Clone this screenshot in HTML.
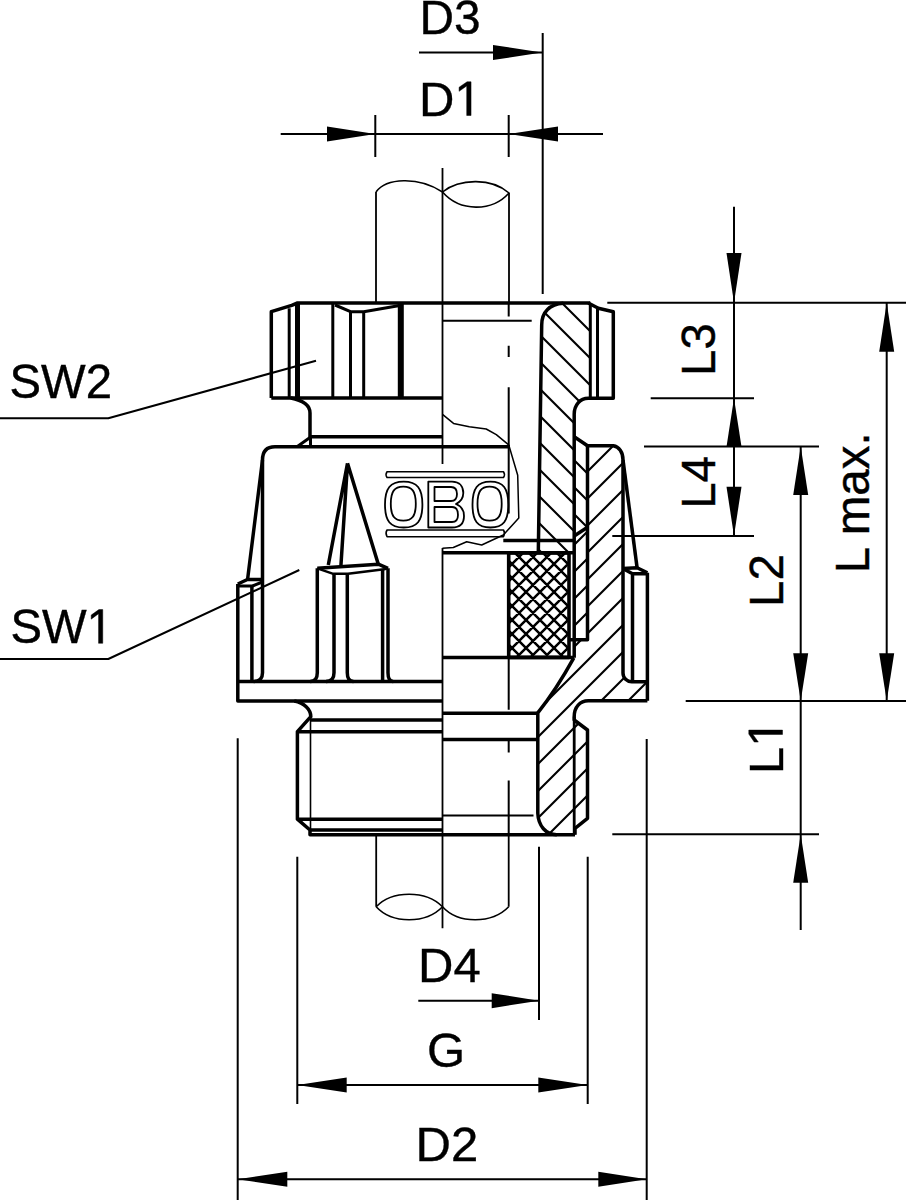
<!DOCTYPE html>
<html><head><meta charset="utf-8"><style>
html,body{margin:0;padding:0;background:#fff;}
svg{display:block;}
text{font-family:"Liberation Sans",sans-serif;fill:#000;stroke:#000;stroke-width:0.4px;}
path,ellipse{stroke:#000;fill:none;stroke-linejoin:round;}
</style></head><body>
<svg width="906" height="1200" viewBox="0 0 906 1200">
<defs><clipPath id="cn"><path d="M563.3 303.3C550 304 541.7 312 541.7 325L538.3 540.8H574.2V414.2C574.2 405 580 398.3 588.3 398.3H590.3V303.3Z"/></clipPath><clipPath id="cw"><path d="M538.3 540.8H569V553H538.3Z"/></clipPath><clipPath id="cs1"><path d="M574.2 436.7L587.5 445.8V527.3L574.2 536Z"/></clipPath><clipPath id="cs2"><path d="M574.2 536L587.5 527.3V639.8H574.2Z"/></clipPath><clipPath id="cb"><path d="M587.5 445.8H613.3C619 446.7 623 452 623 460V673C623 678 627 681.7 631.7 681.7H646.7V700.8H588.3C580 700.8 574.2 707 574.2 716.7V720L587.5 730V818.3L575 828.3V834.7H556.7C546 834.7 538.3 826 538.3 813.3V712.8Q556 690 573.8 657.8L574.2 639.8H587.5Z"/></clipPath><clipPath id="cx"><rect x="508.7" y="553" width="61" height="104"/></clipPath></defs><rect width="906" height="1200" fill="#fff"/>
<path d="M419 52.5H542" stroke-width="2.0" /><polygon points="542.0,52.5 493.0,60.0 493.0,45.0" fill="#000" stroke="none"/><path d="M542.7 33V294" stroke-width="2.0" /><path d="M280.7 134H603" stroke-width="2.0" /><polygon points="375.3,134.0 327.0,141.5 327.0,126.5" fill="#000" stroke="none"/><polygon points="508.7,134.0 558.0,126.5 558.0,141.5" fill="#000" stroke="none"/><path d="M375.3 115V157M508.7 115V157" stroke-width="2.0" /><path d="M734 206.7V536" stroke-width="2.0" /><polygon points="734.0,302.7 726.5,253.0 741.5,253.0" fill="#000" stroke="none"/><polygon points="734.0,398.3 741.5,446.7 726.5,446.7" fill="#000" stroke="none"/><polygon points="734.0,536.0 726.5,486.7 741.5,486.7" fill="#000" stroke="none"/><path d="M607.3 302.7H906M650.7 398.3H754M644 446.5H819M612.3 536H754M685.7 701H906M612.3 834.3H819" stroke-width="2.0" /><path d="M800.7 446.5V930" stroke-width="2.0" /><polygon points="800.7,446.5 808.2,495.0 793.2,495.0" fill="#000" stroke="none"/><polygon points="800.7,701.0 793.2,653.3 808.2,653.3" fill="#000" stroke="none"/><polygon points="800.7,834.3 808.2,882.7 793.2,882.7" fill="#000" stroke="none"/><path d="M886.7 302.7V701" stroke-width="2.0" /><polygon points="886.7,302.7 894.2,351.7 879.2,351.7" fill="#000" stroke="none"/><polygon points="886.7,701.0 879.2,653.3 894.2,653.3" fill="#000" stroke="none"/><path d="M418.3 1000.7H539M539 846.7V1020" stroke-width="2.0" /><polygon points="539.0,1000.7 491.7,1008.2 491.7,993.2" fill="#000" stroke="none"/><path d="M297.3 1085H587.7M297.3 856.7V1104M587.7 856.7V1104" stroke-width="2.0" /><polygon points="297.3,1085.0 346.7,1077.5 346.7,1092.5" fill="#000" stroke="none"/><polygon points="587.7,1085.0 538.3,1092.5 538.3,1077.5" fill="#000" stroke="none"/><path d="M237.7 1179.3H646.7M237.7 738.3V1200M646.7 739V1200" stroke-width="2.0" /><polygon points="237.7,1179.3 287.3,1171.8 287.3,1186.8" fill="#000" stroke="none"/><polygon points="646.7,1179.3 598.3,1186.8 598.3,1171.8" fill="#000" stroke="none"/><path d="M0 418.3H108.3L316 360.7" stroke-width="2.0" /><path d="M0 659H108.3L299.3 570" stroke-width="2.0" /><g transform="translate(419.5,33.6) scale(0.975,1)"><text x="0.00" y="0" font-size="49">D3</text></g><g transform="translate(419,115.5)"><text x="0.00" y="0" font-size="49">D</text><path d="M515 0V1237L197 1010V1180L530 1409H696V0Z" transform="translate(35.39,0) scale(0.02393,-0.02393)" style="fill:#000" stroke-width="20"/></g><g transform="translate(9.5,398.3) scale(0.965,1)"><text x="0.00" y="0" font-size="49">SW2</text></g><g transform="translate(10.5,643.3) scale(0.965,1)"><text x="0.00" y="0" font-size="49">SW</text><path d="M515 0V1237L197 1010V1180L530 1409H696V0Z" transform="translate(78.93,0) scale(0.02393,-0.02393)" style="fill:#000" stroke-width="20"/></g><g transform="translate(418,981.5)"><text x="0.00" y="0" font-size="49">D4</text></g><g transform="translate(427,1066.7)"><text x="0.00" y="0" font-size="49">G</text></g><g transform="translate(415.5,1160.5)"><text x="0.00" y="0" font-size="49">D2</text></g><g transform="translate(715,376) rotate(-90)"><text x="0.00" y="0" font-size="47.5">L3</text></g><g transform="translate(715,508.8) rotate(-90)"><text x="0.00" y="0" font-size="47.5">L4</text></g><g transform="translate(782.5,607) rotate(-90)"><text x="0.00" y="0" font-size="47.5">L2</text></g><g transform="translate(782.5,774) rotate(-90)"><text x="0.00" y="0" font-size="49">L</text><path d="M515 0V1237L197 1010V1180L530 1409H696V0Z" transform="translate(27.25,0) scale(0.02393,-0.02393)" style="fill:#000" stroke-width="20"/></g><g transform="translate(868.5,573.2) rotate(-90)"><text x="0.00" y="0" font-size="47.5">L max.</text></g><path d="M376 192V303M509 193V303M442.5 168V464M442.5 548V928.3" stroke-width="1.8" /><path d="M376 192C386 178 418 176 442.5 192C460 178 492 178 509 193C492 212 460 212 442.5 192" stroke-width="1.6" fill="none"/><path d="M376.2 834.7V906.7M508.7 834.7V906.7" stroke-width="1.8" /><path d="M376.2 906.7C392 890 426 890 442.5 906.7C426 924 392 924 376.2 906.7M442.5 906.7C458 924 492 924 508.7 906.7" stroke-width="1.6" fill="none"/><path d="M271.3 398V311.7L291.7 305.3L297.5 303H590.3" stroke-width="3.5" /><path d="M271.3 398H442.5" stroke-width="3.5" /><path d="M289.2 308.3V398" stroke-width="3" /><path d="M297.5 303V398" stroke-width="5" /><path d="M332.8 303V398" stroke-width="3" /><path d="M350.5 311.7V398M363.7 311.7V398" stroke-width="3" /><path d="M400.8 303V398" stroke-width="6" /><path d="M335 305L350.5 311.7H363.7L398.3 305.8" stroke-width="3" /><path d="M290.8 398C301 400 310 404 310 413V436.7H442.5" stroke-width="3.5" /><path d="M297 446.7L310 437.5M310.5 437V446.7" stroke-width="3" /><path d="M510 446.7H275Q262.5 446.7 262.5 460V672.7Q262.5 681.5 253.7 681.5" stroke-width="3.5" /><path d="M237.8 681.5H442.5" stroke-width="3.5" /><path d="M237.8 584V701H442.5" stroke-width="3.5" /><path d="M237.8 584L247.4 579.5H262.3" stroke-width="3.5" /><path d="M237.8 586H252.3L262.3 582" stroke-width="3" /><path d="M251.9 586V681.5" stroke-width="3.5" /><path d="M262.5 460L247.5 580" stroke-width="3.5" /><path d="M317.3 568.3V672.7Q317.3 681.5 310.2 681.5" stroke-width="3.5" /><path d="M334 573.3V672.7Q334 681.5 326 681.5" stroke-width="3.5" /><path d="M347.3 573.3V672.7Q347.3 681.5 353.5 681.5" stroke-width="3.5" /><path d="M382.6 569V681.5" stroke-width="3.5" /><path d="M388 568.3V672.7Q388 681.5 393.2 681.5" stroke-width="3.5" /><path d="M317.3 568.3L378.3 564.2L388 568.3" stroke-width="3.5" /><path d="M317.3 568.3L333.3 573.8H348L384 569.3L388 568.3" stroke-width="2.4" /><path d="M347.5 463.3L328.3 565M347.5 463.3L340.8 567.5M347.5 463.3L378.3 564.2" stroke-width="3.5" /><path d="M294.3 701C304 703 310.8 709 310.8 716.7L297.4 731.7V819.2L310 830V834.7H575" stroke-width="3.5" /><path d="M310.8 720H442.5M297.4 731.7H442.5M297.4 819.2H442.5M310 830H442.5" stroke-width="3.5" /><path d="M310.5 716.7V830" stroke-width="1.6" /><path clip-path="url(#cn)" stroke-width="2.1" d="M563 250L1213 900M536 250L1186 900M509 250L1159 900M482 250L1132 900M455 250L1105 900M428 250L1078 900M401 250L1051 900M374 250L1024 900M347 250L997 900M320 250L970 900M293 250L943 900M266 250L916 900M239 250L889 900M212 250L862 900M185 250L835 900M158 250L808 900M131 250L781 900M104 250L754 900M77 250L727 900M50 250L700 900M23 250L673 900M-4 250L646 900"/><path clip-path="url(#cw)" stroke-width="2.1" d="M563 250L1213 900M536 250L1186 900M509 250L1159 900M482 250L1132 900M455 250L1105 900M428 250L1078 900M401 250L1051 900M374 250L1024 900M347 250L997 900M320 250L970 900M293 250L943 900M266 250L916 900M239 250L889 900M212 250L862 900M185 250L835 900M158 250L808 900M131 250L781 900M104 250L754 900M77 250L727 900M50 250L700 900M23 250L673 900M-4 250L646 900"/><path clip-path="url(#cs1)" stroke-width="2.1" d="M472 250L1122 900M445 250L1095 900M418 250L1068 900M391 250L1041 900M364 250L1014 900M337 250L987 900M310 250L960 900M283 250L933 900M256 250L906 900M229 250L879 900"/><path clip-path="url(#cs2)" stroke-width="2.1" d="M788 250L88 950M815 250L115 950M842 250L142 950M869 250L169 950M896 250L196 950M923 250L223 950M950 250L250 950M977 250L277 950M1004 250L304 950M1031 250L331 950"/><path clip-path="url(#cb)" stroke-width="2.1" d="M269 250L-431 950M296 250L-404 950M323 250L-377 950M350 250L-350 950M377 250L-323 950M404 250L-296 950M431 250L-269 950M458 250L-242 950M485 250L-215 950M512 250L-188 950M539 250L-161 950M566 250L-134 950M593 250L-107 950M620 250L-80 950M647 250L-53 950M674 250L-26 950M701 250L1 950M728 250L28 950M755 250L55 950M782 250L82 950M809 250L109 950M836 250L136 950M863 250L163 950M890 250L190 950M917 250L217 950M944 250L244 950M971 250L271 950M998 250L298 950M1025 250L325 950M1052 250L352 950M1079 250L379 950M1106 250L406 950M1133 250L433 950M1160 250L460 950M1187 250L487 950M1214 250L514 950M1241 250L541 950M1268 250L568 950M1295 250L595 950M1322 250L622 950"/><path clip-path="url(#cx)" stroke-width="2.5" d="M182 500L382 700M296 500L96 700M196 500L396 700M310 500L110 700M210 500L410 700M324 500L124 700M224 500L424 700M338 500L138 700M238 500L438 700M352 500L152 700M252 500L452 700M366 500L166 700M266 500L466 700M380 500L180 700M280 500L480 700M394 500L194 700M294 500L494 700M408 500L208 700M308 500L508 700M422 500L222 700M322 500L522 700M436 500L236 700M336 500L536 700M450 500L250 700M350 500L550 700M464 500L264 700M364 500L564 700M478 500L278 700M378 500L578 700M492 500L292 700M392 500L592 700M506 500L306 700M406 500L606 700M520 500L320 700M420 500L620 700M534 500L334 700M434 500L634 700M548 500L348 700M448 500L648 700M562 500L362 700M462 500L662 700M576 500L376 700M476 500L676 700M590 500L390 700M490 500L690 700M604 500L404 700M504 500L704 700M618 500L418 700M518 500L718 700M632 500L432 700M532 500L732 700M646 500L446 700M546 500L746 700M660 500L460 700M560 500L760 700M674 500L474 700M574 500L774 700M688 500L488 700M588 500L788 700M702 500L502 700M602 500L802 700M716 500L516 700M616 500L816 700M730 500L530 700M630 500L830 700M744 500L544 700M644 500L844 700M758 500L558 700M658 500L858 700M772 500L572 700M672 500L872 700M786 500L586 700M686 500L886 700M800 500L600 700M700 500L900 700M814 500L614 700M714 500L914 700M828 500L628 700M728 500L928 700M842 500L642 700"/><path d="M588.3 303L598.3 308.3L613.3 311.7V398.3H588.3C580 398.3 574.2 405 574.2 414.2V657.8" stroke-width="3.5" /><path d="M574.2 436.7L587.5 445.8H613.3C619 446.7 623 452 623 460V673C623 678 627 681.7 631.7 681.7H647.4" stroke-width="3.5" /><path d="M563.3 303.3C550 304 541.7 312 541.7 325L538.3 553" stroke-width="3.5" /><path d="M590.3 303V398.3M597.5 308.3V398.3" stroke-width="3" /><path d="M622.8 568.5L637.1 567.8L647.4 572.8M622.8 568.5L632.5 573.8H647.4M632.5 573.8V681.7M647.4 572.8V700.8" stroke-width="3.5" /><path d="M623 460L637.1 567.8" stroke-width="3.5" /><path d="M647.4 700.8H588.3C580 700.8 574.2 707 574.2 716.7V720L587.5 730V818.3L575 828.3V834.7" stroke-width="3.5" /><path d="M574.2 716.7V834.7" stroke-width="2.8" /><path d="M573.8 657.8Q556 690 537.8 712.8V813.3C538.3 826 546 834.7 556.7 834.7" stroke-width="3.5" /><path d="M587.5 445.8V639.8H570" stroke-width="3.5" /><path d="M574.2 536L587.5 527.3" stroke-width="3.5" /><path d="M508.7 553H569V657.4H508.7Z" stroke-width="3.6" /><path d="M442.5 552.8H574M442.5 657.4H574M442.5 713.3H538.3M442.5 739.4H538.3" stroke-width="3.5" /><path d="M503.3 540.5H574" stroke-width="3.5" /><path d="M442.5 320.8H531.7M442.5 815.5H533.5" stroke-width="2.0" /><path d="M508.7 303V316.4M508.7 345.7V357M508.7 387.3V513.5M508.7 656.7V709.7M508.7 739V752.5M508.7 780.6V834.7" stroke-width="2.0" /><path d="M442.5 414.4L453.5 423.4L469.3 426.8L486.2 429L496.3 434.6L508.7 444.8L517.7 475.2L518.8 518L503.3 535L481.7 545L466.7 541.7L453.3 547.5L442.5 548.3" stroke-width="1.5" /><path d="M387 471.7H503.5Q505.5 474.6 503.5 477.5H387Q385 474.6 387 471.7Z" stroke-width="1.5" /><path d="M387 530H503.5Q505.5 533.3 503.5 536.7H387Q385 533.3 387 530Z" stroke-width="1.5" /><path d="M385.0 504.6C385.0 488.112 390.236 481.70000000000005 403.7 481.70000000000005C417.164 481.70000000000005 422.4 488.112 422.4 504.6C422.4 521.088 417.164 527.5 403.7 527.5C390.236 527.5 385.0 521.088 385.0 504.6Z" stroke-width="1.8" /><path d="M390.8 503.7C390.8 491.46 394.3 486.7 403.3 486.7C412.3 486.7 415.8 491.46 415.8 503.7C415.8 515.9399999999999 412.3 520.7 403.3 520.7C394.3 520.7 390.8 515.9399999999999 390.8 503.7Z" stroke-width="1.8" /><path d="M472.5 504.6C472.5 488.112 477.512 481.70000000000005 490.4 481.70000000000005C503.28799999999995 481.70000000000005 508.29999999999995 488.112 508.29999999999995 504.6C508.29999999999995 521.088 503.28799999999995 527.5 490.4 527.5C477.512 527.5 472.5 521.088 472.5 504.6Z" stroke-width="1.8" /><path d="M477.5 503.7C477.5 491.46 480.88800000000003 486.7 489.6 486.7C498.312 486.7 501.70000000000005 491.46 501.70000000000005 503.7C501.70000000000005 515.9399999999999 498.312 520.7 489.6 520.7C480.88800000000003 520.7 477.5 515.9399999999999 477.5 503.7Z" stroke-width="1.8" /><path d="M428.3 481.7H452C460 481.7 463.3 487 463.3 493C463.3 499 460 502 456 504C461 506 464 510 464 516C464 523 460 527.5 452 527.5H428.3Z" stroke-width="1.8" /><path d="M434.5 487H451C455 487 457 490 457 494C457 498 455 501 451 501H434.5ZM434.5 507H452C456 507 458 510 458 515C458 519 456 522 452 522H434.5Z" stroke-width="1.8" />
</svg></body></html>
